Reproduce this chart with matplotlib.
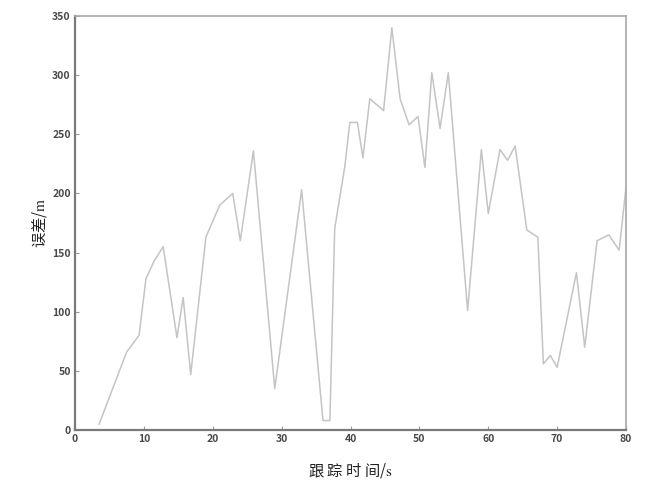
import numpy as np
import matplotlib.pyplot as plt

plt.rcParams['font.family'] = ['Noto Sans CJK SC', 'DejaVu Sans']
plt.rcParams['mathtext.fontset'] = 'stix'

# tracking time (s) and error (m)
t = [3.5, 7.5, 9.3, 10.3, 11.5, 12.8, 14.8, 15.7, 16.8, 19.0, 21.0, 22.9,
     24.0, 25.9, 29.0, 32.9, 36.0, 37.0, 37.7, 39.2, 39.9, 41.0, 41.8, 42.8,
     44.8, 46.0, 47.2, 48.5, 49.8, 50.8, 51.8, 53.0, 54.2, 57.0, 59.0, 60.0,
     61.7, 62.8, 63.9, 65.6, 67.2, 68.0, 69.0, 70.0, 72.8, 74.0, 75.8, 77.5,
     79.0, 80.0]
err = [5, 66, 80, 128, 143, 155, 78, 112, 47, 163, 190, 200,
       160, 236, 35, 203, 8, 8, 170, 224, 260, 260, 230, 280,
       270, 340, 280, 258, 265, 222, 302, 255, 302, 101, 237, 183,
       237, 228, 240, 169, 163, 56, 63, 53, 133, 70, 160, 165,
       152, 205]

xticks = np.arange(0, 81, 10)
yticks = np.arange(0, 351, 50)

fig = plt.figure(figsize=(6.49, 4.86), dpi=100)
ax = fig.add_axes([0.1156, 0.1152, 0.849, 0.852])

ax.plot(t, err, color='#c4c4c4', lw=1.1)

ax.set_xlim(0, 80)
ax.set_ylim(0, 350)
ax.set_xticks(xticks)
ax.set_yticks(yticks)
ax.tick_params(direction='in', length=3, width=0.8, colors='#9a9a9a',
               labelcolor='#4a4a4a', labelsize=7.5, pad=3)
for lab in ax.get_xticklabels() + ax.get_yticklabels():
    lab.set_fontweight('bold')

for side in ['left', 'bottom']:
    ax.spines[side].set_color('#7a7a7a')
    ax.spines[side].set_linewidth(1.6)
for side in ['top', 'right']:
    ax.spines[side].set_color('#a8a8a8')
    ax.spines[side].set_linewidth(1.2)

ax.set_xlabel('跟 踪 时 间/$\\mathrm{s}$', fontsize=11, color='#222222', labelpad=12)
ax.set_ylabel('误差/$\\mathrm{m}$', fontsize=11, color='#222222', labelpad=2)

fig.savefig('out.png', dpi=100)
